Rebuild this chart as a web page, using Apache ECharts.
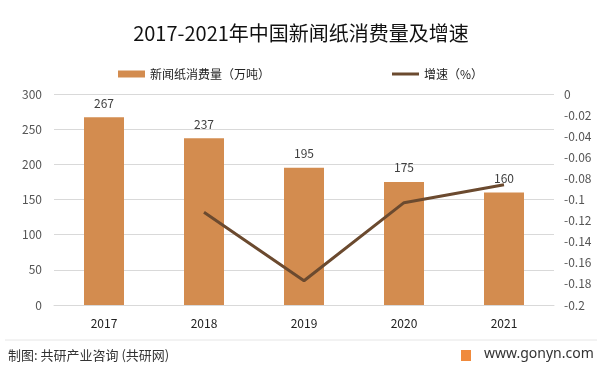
<!DOCTYPE html>
<html><head><meta charset="utf-8">
<script src="https://cdn.jsdelivr.net/npm/echarts@6/dist/echarts.min.js"></script>
<style>html,body{margin:0;padding:0;background:#fff}#c{width:602px;height:371px}</style>
</head><body><div id="c"></div>
<script>
const categories = ['2017','2018','2019','2020','2021'];
const consumption = [267, 237, 195, 175, 160];
const growth = [null, -0.112, -0.177, -0.103, -0.086];
const titleText = '2017-2021年中国新闻纸消费量及增速';
const barName = '新闻纸消费量（万吨）';
const lineName = '增速（%）';
const sourceText = '制图: 共研产业咨询 (共研网)';
const siteText = 'www.gonyn.com';

const FONT = '"Noto Sans CJK SC", "Noto Sans", sans-serif';
const chart = echarts.init(document.getElementById('c'), null, {renderer:'canvas'});
chart.setOption({
  backgroundColor:'#fff',
  animation:false,
  textStyle:{fontFamily:FONT},
  title:{text:titleText, left:'center', top:18,
    textStyle:{fontSize:20, fontWeight:'normal', color:'#111', fontFamily:FONT}},
  legend:{top:63, left:113, itemGap:122, itemWidth:27, itemHeight:7,
    textStyle:{fontSize:12, color:'#222', fontFamily:FONT},
    data:[{name:barName, icon:'rect'}, {name:lineName, icon:'path://M0,0H27V3H0Z'}]},
  grid:{left:54, right:48, top:94, bottom:66, containLabel:false},
  xAxis:{type:'category', data:categories,
    axisLine:{lineStyle:{color:'#d9d9d9'}}, axisTick:{show:false},
    axisLabel:{color:'#222', fontSize:12, margin:12}},
  yAxis:[
    {type:'value', min:0, max:300, interval:50,
     axisLine:{show:false}, axisTick:{show:false},
     splitLine:{lineStyle:{color:'#d9d9d9'}},
     axisLabel:{color:'#555', fontSize:12, margin:12}},
    {type:'value', min:-0.2, max:0, interval:0.02,
     axisLine:{show:false}, axisTick:{show:false}, splitLine:{show:false},
     axisLabel:{color:'#555', fontSize:12, margin:10,
       formatter:v=>String(Number(v.toFixed(2)))}}
  ],
  series:[
    {name:barName, type:'bar', data:consumption, barWidth:40,
     itemStyle:{color:'#D38C4F'},
     label:{show:true, position:'top', distance:8, color:'#404040', fontSize:12}},
    {name:lineName, type:'line', yAxisIndex:1, data:growth, symbol:'none',
     lineStyle:{color:'#6B4A2F', width:3}, itemStyle:{color:'#6B4A2F'}}
  ],
  graphic:[
    {type:'line', shape:{x1:5,y1:340,x2:597,y2:340}, style:{stroke:'#e6e6e6', lineWidth:1}},
    {type:'text', left:8, top:349, style:{text:sourceText, fill:'#333', font:'13px '+FONT}},
    {type:'rect', shape:{x:461,y:350,width:10,height:11}, style:{fill:'#F08A3C'}},
    {type:'text', left:484, top:347, style:{text:siteText, fill:'#333', font:'14px "Noto Sans", sans-serif'}}
  ]
});
</script></body></html>
